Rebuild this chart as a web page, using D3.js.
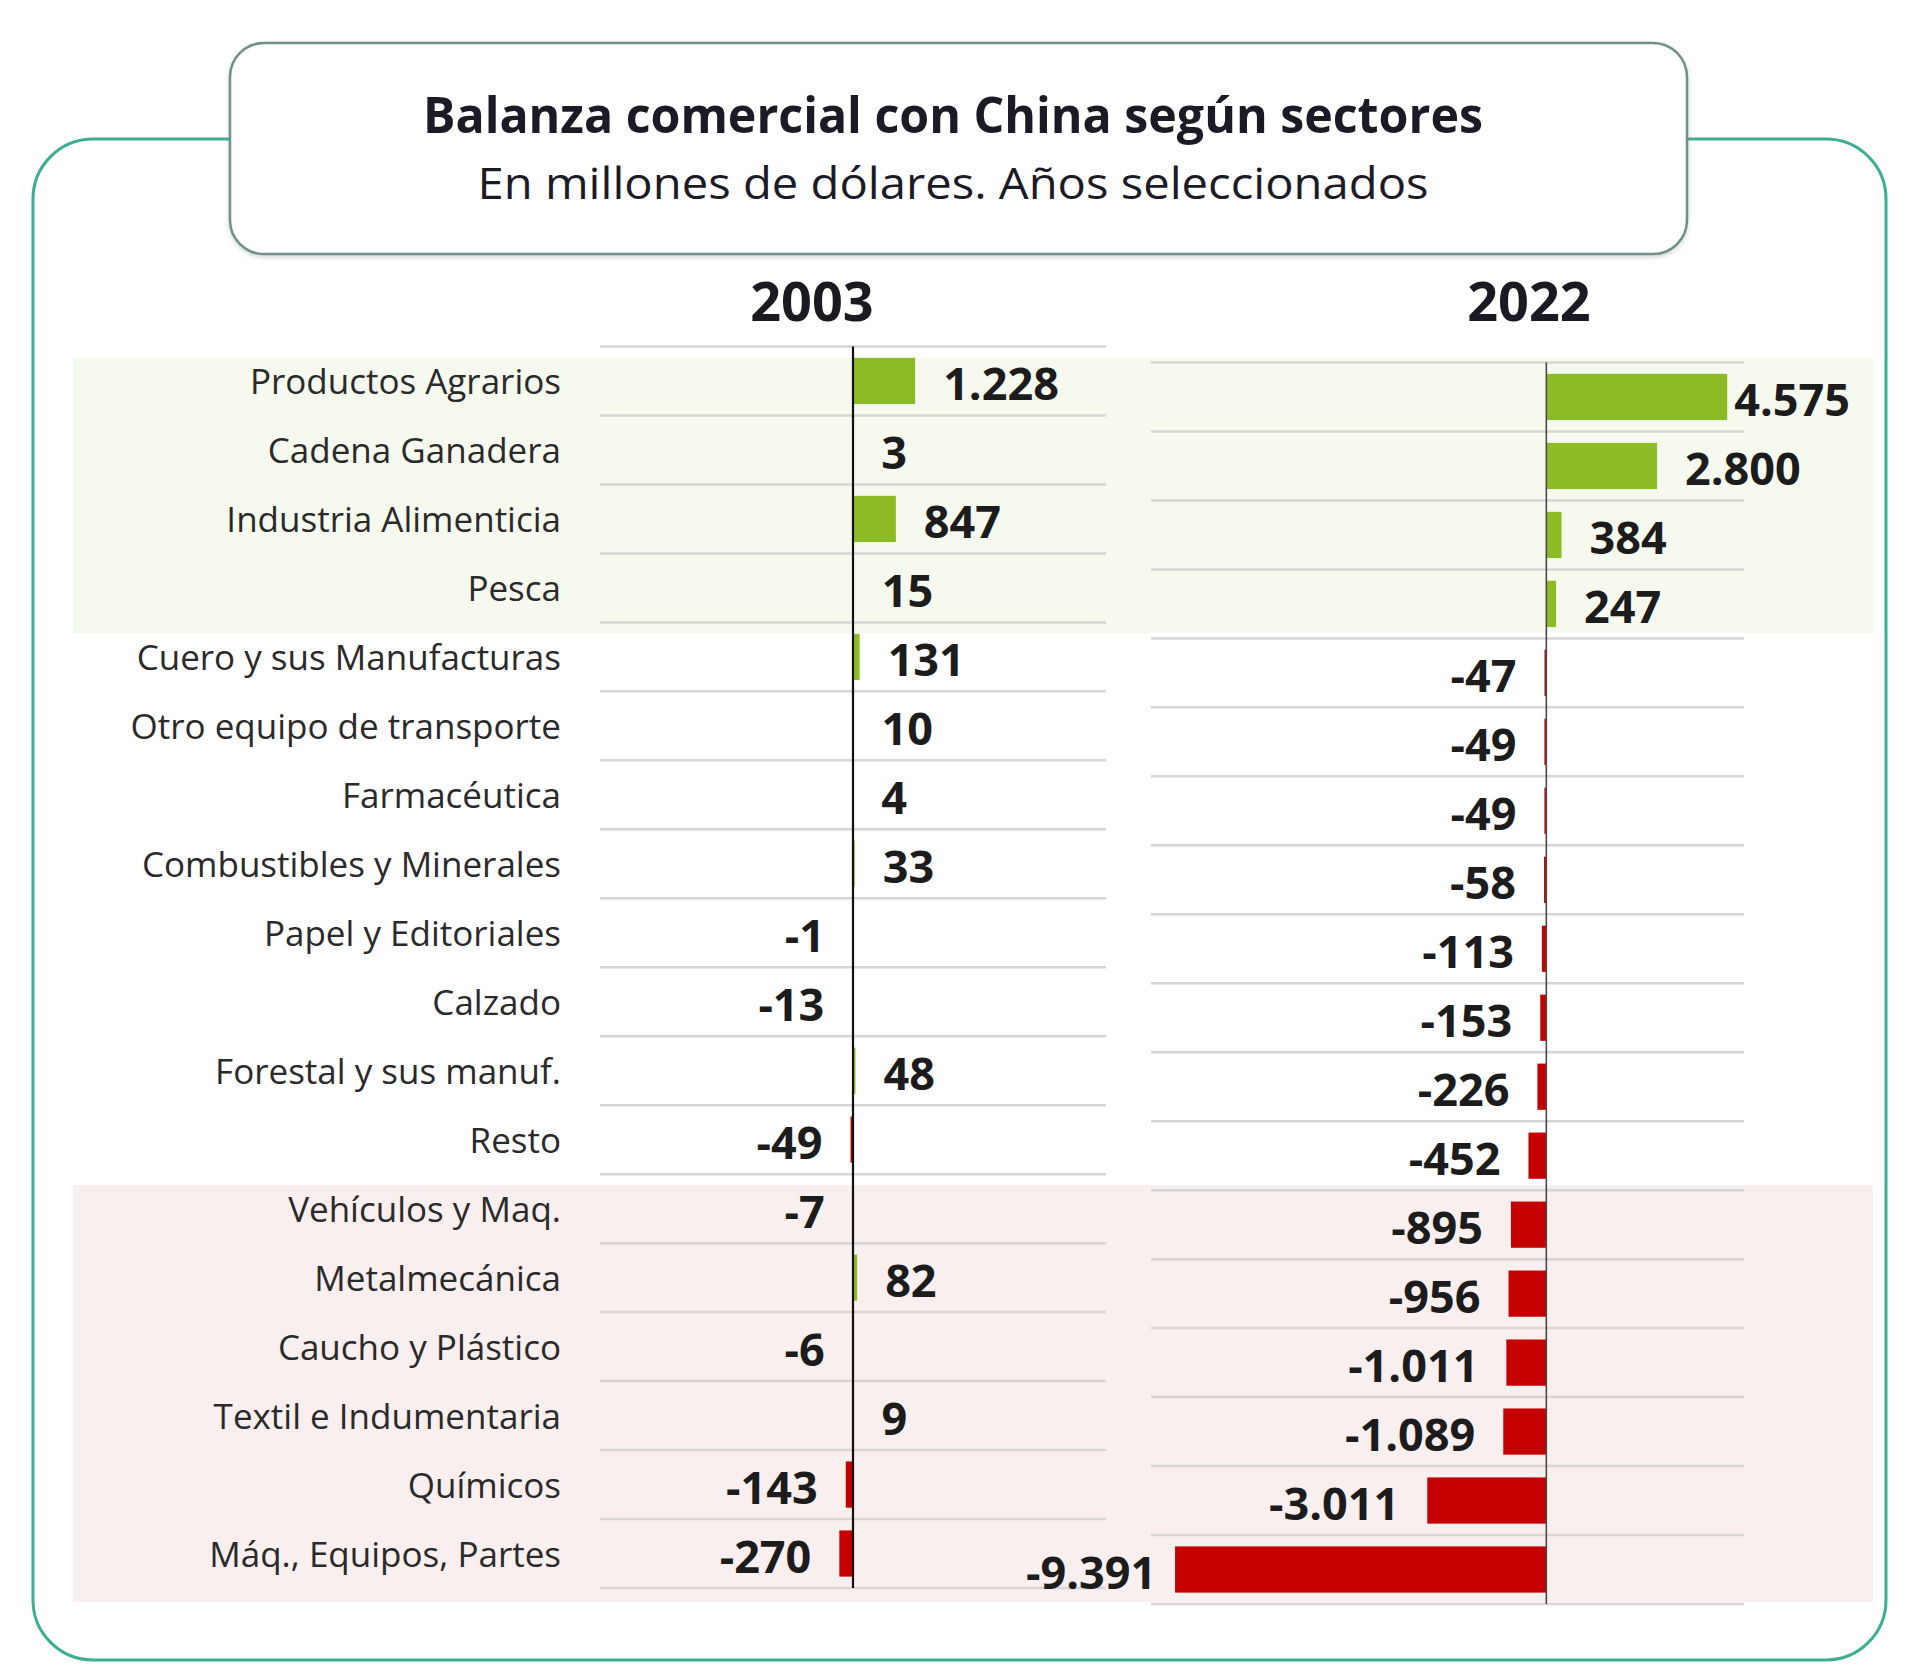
<!DOCTYPE html>
<html>
<head>
<meta charset="utf-8">
<script src="https://cdn.jsdelivr.net/npm/d3@7"></script>
<style>
  html, body { margin: 0; padding: 0; background: #ffffff; }
  svg { display: block; }
  text { font-family: "Open Sans", "Noto Sans", sans-serif; }
</style>
</head>
<body>
<svg id="chart" width="1920" height="1673"></svg>
<script>
// ---------- DATA ----------
const categories = [
  "Productos Agrarios", "Cadena Ganadera", "Industria Alimenticia", "Pesca",
  "Cuero y sus Manufacturas", "Otro equipo de transporte", "Farmacéutica",
  "Combustibles y Minerales", "Papel y Editoriales", "Calzado",
  "Forestal y sus manuf.", "Resto", "Vehículos y Maq.", "Metalmecánica",
  "Caucho y Plástico", "Textil e Indumentaria", "Químicos", "Máq., Equipos, Partes"
];
const values2003 = [1228, 3, 847, 15, 131, 10, 4, 33, -1, -13, 48, -49, -7, 82, -6, 9, -143, -270];
const values2022 = [4575, 2800, 384, 247, -47, -49, -49, -58, -113, -153, -226, -452, -895, -956, -1011, -1089, -3011, -9391];
const years = ["2003", "2022"];
const title = "Balanza comercial con China según sectores";
const subtitle = "En millones de dólares. Años seleccionados";

// ---------- SETUP ----------
const svg = d3.select("#chart");
const fmt = d3.formatLocale({ decimal: ",", thousands: ".", grouping: [3], currency: ["$", ""], minus: "-" }).format(",d");
const GREEN = "#8dbb25", RED = "#c40000";

// outer frame
svg.append("rect")
  .attr("x", 33).attr("y", 139).attr("width", 1853).attr("height", 1521)
  .attr("rx", 60).attr("ry", 60)
  .attr("fill", "#ffffff").attr("stroke", "#3dae8f").attr("stroke-width", 3);

// panels
const panels = [
  { year: years[0], values: values2003, x: d3.scaleLinear().domain([-5000, 5000]).range([600, 1106]),
    y: d3.scaleBand().domain(categories).range([346.5, 1588]), axisColor: "#111", axisW: 2.2, yearX: 812,
    minX: -Infinity, maxX: Infinity },
  { year: years[1], values: values2022, x: d3.scaleLinear().domain([-10000, 5000]).range([1151, 1744]),
    y: d3.scaleBand().domain(categories).range([362.5, 1604]), axisColor: "#4a4a4a", axisW: 1.6, yearX: 1529,
    minX: 1026, maxX: 1850 }
];

// background group bands
svg.append("rect")
  .attr("x", 73).attr("y", 358)
  .attr("width", 1800).attr("height", 633 - 358)
  .attr("fill", "#f6f9ee");
svg.append("rect")
  .attr("x", 73).attr("y", 1185)
  .attr("width", 1800).attr("height", 1602 - 1185)
  .attr("fill", "#f9efee");

panels.forEach(p => {
  const g = svg.append("g");
  const step = p.y.step();
  const [x0, x1] = p.x.range();
  const bounds = d3.range(categories.length + 1).map(i => p.y.range()[0] + i * step);

  // gridlines at category boundaries
  g.selectAll("line.grid").data(bounds).join("line")
    .attr("x1", x0).attr("x2", x1)
    .attr("y1", d => d).attr("y2", d => d)
    .attr("stroke", "#d6d6d6").attr("stroke-width", 2.5);

  // bars
  g.selectAll("rect.bar").data(p.values).join("rect")
    .attr("x", d => p.x(Math.min(0, d)))
    .attr("width", d => Math.abs(p.x(d) - p.x(0)))
    .attr("y", (d, i) => p.y(categories[i]) + step * 0.165)
    .attr("height", step * 0.67)
    .attr("fill", d => d >= 0 ? GREEN : RED);

  // zero axis
  g.append("line")
    .attr("x1", p.x(0)).attr("x2", p.x(0))
    .attr("y1", p.y.range()[0]).attr("y2", p.y.range()[1])
    .attr("stroke", p.axisColor).attr("stroke-width", p.axisW);

  // value labels
  const gap = 28;
  g.selectAll("text.val").data(p.values).join("text")
    .attr("y", (d, i) => p.y(categories[i]) + step / 2 + 2)
    .attr("dominant-baseline", "central")
    .attr("font-size", 45).attr("font-weight", 700).attr("fill", "#1c1c1c")
    .text(d => fmt(d))
    .each(function (d) {
      const t = d3.select(this);
      const w = this.getComputedTextLength();
      if (d >= 0) {
        let x = p.x(d) + gap;
        if (x + w > p.maxX) x = p.maxX - w;
        t.attr("x", x).attr("text-anchor", "start");
      } else {
        let x = p.x(d) - gap;
        if (x - w < p.minX) x = p.minX + w;
        t.attr("x", x).attr("text-anchor", "end");
      }
    });

  // year header
  svg.append("text")
    .attr("x", p.yearX).attr("y", 321)
    .attr("text-anchor", "middle")
    .attr("font-size", 54).attr("font-weight", 700).attr("fill", "#1a1a22")
    .text(p.year);
});

// category labels
const yl = panels[0].y;
svg.append("g").selectAll("text").data(categories).join("text")
  .attr("x", 561)
  .attr("y", d => yl(d) + yl.step() / 2)
  .attr("dominant-baseline", "central")
  .attr("text-anchor", "end")
  .attr("font-size", 35).attr("fill", "#2a2a2a")
  .text(d => d);

// title box
const defs = svg.append("defs");
const f = defs.append("filter").attr("id", "sh").attr("x", "-5%").attr("y", "-20%").attr("width", "110%").attr("height", "140%");
f.append("feDropShadow").attr("dx", 0).attr("dy", 2).attr("stdDeviation", 2.5).attr("flood-color", "#7a8a86").attr("flood-opacity", 0.35);
svg.append("rect")
  .attr("x", 230).attr("y", 43).attr("width", 1457).attr("height", 211)
  .attr("rx", 34).attr("ry", 34)
  .attr("fill", "#ffffff").attr("stroke", "#6f9189").attr("stroke-width", 2.5)
  .attr("filter", "url(#sh)");

svg.append("text")
  .attr("x", 953).attr("y", 133)
  .attr("text-anchor", "middle")
  .attr("font-size", 50).attr("font-weight", 700).attr("fill", "#1b1b26")
  .attr("textLength", 1060).attr("lengthAdjust", "spacingAndGlyphs")
  .text(title);
svg.append("text")
  .attr("x", 953).attr("y", 199)
  .attr("text-anchor", "middle")
  .attr("font-size", 44).attr("font-weight", 400).attr("fill", "#1b1b26")
  .attr("textLength", 951).attr("lengthAdjust", "spacingAndGlyphs")
  .text(subtitle);
</script>
</body>
</html>
